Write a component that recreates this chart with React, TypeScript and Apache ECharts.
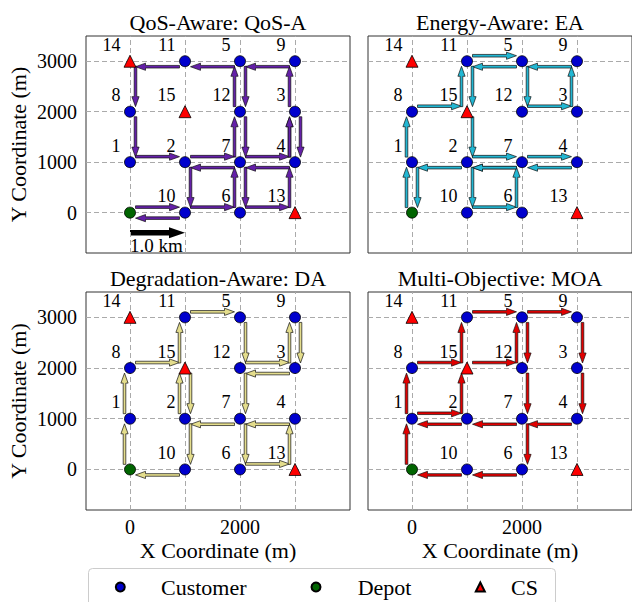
import React, { useEffect, useRef } from "react";
import * as echarts from "echarts";

const FONT = "Liberation Serif, DejaVu Serif, serif";

// ---- data ----
const nodeIds = [0, 1, 2, 3, 4, 5, 6, 7, 8, 9, 10, 11, 12, 13, 14, 15];
const nodeX = [0, 0, 1000, 3000, 3000, 2000, 2000, 2000, 0, 3000, 1000, 1000, 2000, 3000, 0, 1000];
const nodeY = [0, 1000, 1000, 2000, 1000, 3000, 0, 1000, 2000, 3000, 0, 3000, 2000, 0, 3000, 2000];
const depotIds = [0];
const customerIds = [1, 2, 3, 4, 5, 6, 7, 8, 9, 10, 11, 12];
const csIds = [13, 14, 15];

const gridLinesX = [0, 1000, 2000, 3000];
const gridLinesY = [0, 1000, 2000, 3000];
const xTickValues = [0, 2000];
const yTickValues = [0, 1000, 2000, 3000];

const panelTitles = ["QoS-Aware: QoS-A", "Energy-Aware: EA", "Degradation-Aware: DA", "Multi-Objective: MOA"];

const qosRoute = [0, 10, 6, 7, 12, 5, 11, 14, 8, 1, 2, 7, 4, 3, 4, 3, 9, 5, 12, 7, 6, 13, 4, 7, 2, 10, 0];
const eaRoute = [0, 1, 8, 15, 11, 5, 12, 3, 9, 5, 11, 15, 2, 7, 4, 7, 2, 10, 6, 7, 2, 1, 0];
const daRoute = [0, 1, 8, 15, 11, 5, 12, 3, 9, 3, 12, 7, 6, 13, 4, 7, 2, 15, 2, 10, 0];
const moaRoute = [0, 1, 8, 15, 11, 5, 9, 3, 4, 7, 2, 1, 2, 15, 12, 5, 12, 7, 6, 10, 0];
const routes = [qosRoute, eaRoute, daRoute, moaRoute];
const routeColors = ["#6420a8", "#22b7d3", "#e4dd8c", "#e10000"];

const scaleBarX = [0, 1000];
const scaleBarY = -400;
const scaleBarLabel = "1.0 km";
const scaleBarLabelY = -650;

const legendNames = ["Customer", "Depot", "CS"];

// ---- layout ----
const grids = [
  { left: 86, top: 36, width: 264, height: 217 },
  { left: 368, top: 36, width: 264, height: 217 },
  { left: 86, top: 292, width: 264, height: 218 },
  { left: 368, top: 292, width: 264, height: 218 },
];
const titlePos = [
  [218, 22],
  [500, 22],
  [218, 278.5],
  [500, 278.5],
];

function routeEdges(route: number[]) {
  const out: number[][] = [];
  for (let i = 0; i < route.length - 1; i++) {
    const a = route[i];
    const b = route[i + 1];
    out.push([nodeX[a], nodeY[a], nodeX[b], nodeY[b]]);
  }
  return out;
}

function arrowRenderer(color: string) {
  return (params: any, api: any) => {
    const p0 = api.coord([api.value(0), api.value(1)]);
    const p1 = api.coord([api.value(2), api.value(3)]);
    const dx = p1[0] - p0[0];
    const dy = p1[1] - p0[1];
    const len = Math.hypot(dx, dy) || 1;
    const ux = dx / len;
    const uy = dy / len;
    const nx = uy;
    const ny = -ux;
    const off = 5.5;
    const sx = p0[0] + dx * 0.1 + nx * off;
    const sy = p0[1] + dy * 0.1 + ny * off;
    const ex = p0[0] + dx * 0.9 + nx * off;
    const ey = p0[1] + dy * 0.9 + ny * off;
    const hl = 10;
    const hw = 3.6;
    const sw = 1.3;
    const bx = ex - ux * hl;
    const by = ey - uy * hl;
    const points = [
      [sx + nx * sw, sy + ny * sw],
      [bx + nx * sw, by + ny * sw],
      [bx + nx * hw, by + ny * hw],
      [ex, ey],
      [bx - nx * hw, by - ny * hw],
      [bx - nx * sw, by - ny * sw],
      [sx - nx * sw, sy - ny * sw],
    ];
    return {
      type: "polygon",
      shape: { points },
      style: { fill: color, stroke: "#111", lineWidth: 0.7 },
    };
  };
}

function scaleBarRenderer(params: any, api: any) {
  const p0 = api.coord([api.value(0), api.value(1)]);
  const p1 = api.coord([api.value(2), api.value(3)]);
  const pl = api.coord([api.value(0), api.value(4)]);
  const hl = 16;
  const hw = 5.5;
  const sw = 2.7;
  const y = p0[1];
  const bx = p1[0] - hl;
  return {
    type: "group",
    children: [
      {
        type: "polygon",
        shape: {
          points: [
            [p0[0], y - sw],
            [bx, y - sw],
            [bx, y - hw],
            [p1[0], y],
            [bx, y + hw],
            [bx, y + sw],
            [p0[0], y + sw],
          ],
        },
        style: { fill: "#000" },
      },
      {
        type: "text",
        style: {
          text: scaleBarLabel,
          x: pl[0],
          y: pl[1],
          align: "left",
          verticalAlign: "middle",
          fill: "#000",
          fontSize: 19,
          fontFamily: FONT,
        },
      },
    ],
  };
}

function nodeData(ids: number[]) {
  return ids.map((id) => ({ name: String(id), value: [nodeX[id], nodeY[id]] }));
}

const nodeLabel = {
  show: true,
  formatter: "{b}",
  position: "inside",
  align: "right",
  verticalAlign: "middle",
  offset: [-9.5, -16.5],
  fontSize: 18,
  fontFamily: FONT,
  color: "#000",
};

const plain = (v: number) => String(v);

function buildOption() {
  const xAxis: any[] = [];
  const yAxis: any[] = [];
  const series: any[] = [];
  const title: any[] = [];

  grids.forEach((g, i) => {
    const isBottom = i >= 2;
    const isLeft = i % 2 === 0;
    title.push({
      text: panelTitles[i],
      left: titlePos[i][0],
      top: titlePos[i][1],
      textAlign: "center",
      textVerticalAlign: "middle",
      padding: 0,
      textStyle: { fontSize: 22, fontWeight: "normal", color: "#000", fontFamily: FONT },
    });
    xAxis.push({
      gridIndex: i,
      type: "value",
      min: -800,
      max: 4000,
      splitLine: { show: false },
      axisLine: { show: false },
      axisTick: { show: true, length: 4, customValues: xTickValues, lineStyle: { color: "#333", width: 1 } },
      axisLabel: {
        show: isBottom,
        customValues: xTickValues,
        formatter: plain,
        fontSize: 20,
        fontFamily: FONT,
        color: "#000",
        margin: 7,
      },
      name: isBottom ? "X Coordinate (m)" : "",
      nameLocation: "middle",
      nameGap: 29,
      nameTextStyle: { fontSize: 22, fontFamily: FONT, color: "#000" },
    });
    yAxis.push({
      gridIndex: i,
      type: "value",
      min: -800,
      max: 3500,
      splitLine: { show: false },
      axisLine: { show: false },
      axisTick: { show: true, length: 4, customValues: yTickValues, lineStyle: { color: "#333", width: 1 } },
      axisLabel: {
        show: isLeft,
        customValues: yTickValues,
        formatter: plain,
        fontSize: 20,
        fontFamily: FONT,
        color: "#000",
        margin: 9,
      },
      name: isLeft ? "Y Coordinate (m)" : "",
      nameLocation: "middle",
      nameRotate: 90,
      nameGap: 57,
      nameTextStyle: { fontSize: 22, fontFamily: FONT, color: "#000" },
    });

    series.push({
      type: "line",
      xAxisIndex: i,
      yAxisIndex: i,
      data: [],
      silent: true,
      z: 1,
      markLine: {
        silent: true,
        symbol: ["none", "none"],
        label: { show: false },
        lineStyle: { type: [5, 3], color: "#aaaaaa", width: 1 },
        emphasis: { disabled: true },
        data: [...gridLinesX.map((v) => ({ xAxis: v })), ...gridLinesY.map((v) => ({ yAxis: v }))],
      },
    });

    series.push({
      type: "custom",
      xAxisIndex: i,
      yAxisIndex: i,
      silent: true,
      z: 3,
      encode: { x: [0, 2], y: [1, 3] },
      data: routeEdges(routes[i]),
      renderItem: arrowRenderer(routeColors[i]),
    });

    if (i === 0) {
      series.push({
        type: "custom",
        xAxisIndex: i,
        yAxisIndex: i,
        silent: true,
        z: 3,
        encode: { x: [0, 2], y: [1, 3] },
        data: [[scaleBarX[0], scaleBarY, scaleBarX[1], scaleBarY, scaleBarLabelY]],
        renderItem: scaleBarRenderer,
      });
    }

    series.push({
      type: "scatter",
      name: legendNames[0],
      xAxisIndex: i,
      yAxisIndex: i,
      z: 5,
      symbol: "circle",
      symbolSize: 11,
      itemStyle: { color: "#0000cd", borderColor: "#000", borderWidth: 0.8, opacity: 1 },
      label: nodeLabel,
      data: nodeData(customerIds),
    });
    series.push({
      type: "scatter",
      name: legendNames[1],
      xAxisIndex: i,
      yAxisIndex: i,
      z: 5,
      symbol: "circle",
      symbolSize: 11,
      itemStyle: { color: "#006400", borderColor: "#000", borderWidth: 0.8, opacity: 1 },
      label: { show: false },
      data: nodeData(depotIds),
    });
    series.push({
      type: "scatter",
      name: legendNames[2],
      xAxisIndex: i,
      yAxisIndex: i,
      z: 5,
      symbol: "triangle",
      symbolSize: 12,
      itemStyle: { color: "#ff0000", borderColor: "#000", borderWidth: 0.8, opacity: 1 },
      label: nodeLabel,
      data: nodeData(csIds),
    });
  });

  // icon centres and text starts of the three legend entries
  const legendIconCenters = [119.3, 315, 479.3];
  const legendTextStarts = [160, 356.7, 510];
  const legendIcons = ["circle", "circle", "triangle"];
  const iconSize = 9;
  const legend = legendNames.map((nm, k) => ({
    data: [{ name: nm, icon: legendIcons[k] }],
    left: legendIconCenters[k] - iconSize / 2,
    top: 576,
    padding: 0,
    itemWidth: iconSize,
    itemHeight: iconSize,
    symbolKeepAspect: true,
    selectedMode: false,
    textStyle: {
      fontSize: 22,
      fontFamily: FONT,
      color: "#000",
      padding: [0, 0, 0, legendTextStarts[k] - (legendIconCenters[k] + iconSize / 2) - 5],
    },
  }));

  return {
    animation: false,
    backgroundColor: "#fff",
    textStyle: { fontFamily: FONT },
    title,
    grid: grids.map((g) => ({ ...g, show: true, borderColor: "#333", borderWidth: 1, backgroundColor: "transparent" })),
    xAxis,
    yAxis,
    legend,
    graphic: [
      {
        type: "rect",
        z: 0,
        silent: true,
        shape: { x: 88.5, y: 568.5, width: 467, height: 60, r: 4 },
        style: { fill: "#fff", stroke: "#cccccc", lineWidth: 1 },
      },
    ],
    series,
  };
}

export default function App() {
  const ref = useRef<HTMLDivElement>(null);
  useEffect(() => {
    if (!ref.current) return;
    const chart = echarts.init(ref.current, undefined, { renderer: "svg" });
    chart.setOption(buildOption() as any);
    return () => chart.dispose();
  }, []);
  return (
    <div style={{ position: "fixed", left: 0, top: 0, width: 632, height: 602, overflow: "hidden", background: "#fff" }}>
      <div ref={ref} style={{ width: 640, height: 602 }} />
    </div>
  );
}
